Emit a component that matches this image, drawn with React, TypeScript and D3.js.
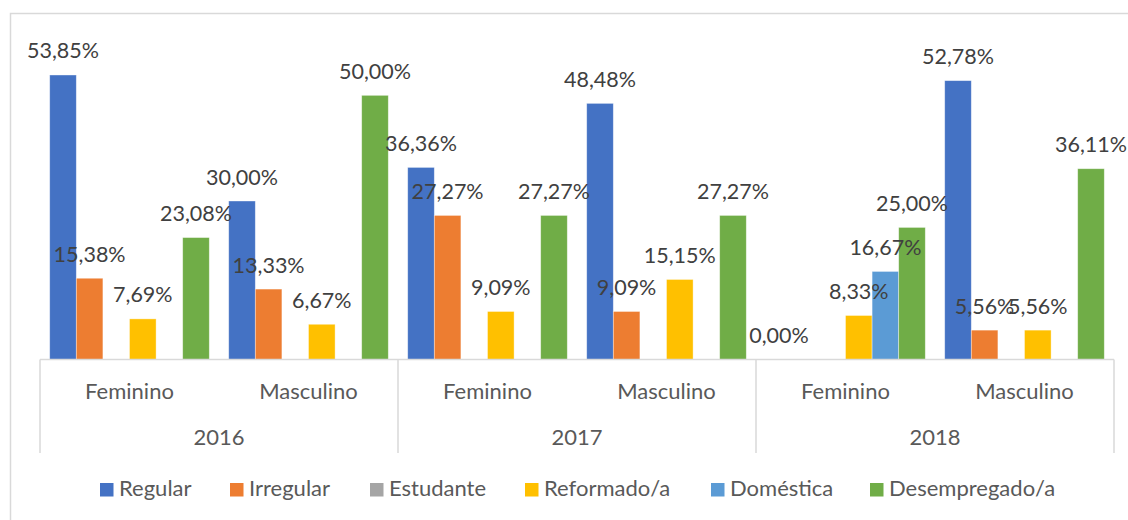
import React from "react";
import * as d3 from "d3";

const years = ["2016", "2017", "2018"];
const genders = ["Feminino", "Masculino"];
const seriesNames = ["Regular", "Irregular", "Estudante", "Reformado/a", "Doméstica", "Desempregado/a"];
const seriesColors = ["#4472C4", "#ED7D31", "#A5A5A5", "#FFC000", "#5B9BD5", "#70AD47"];

// values per category (year, gender), in series order; null = no value
const regular: (number | null)[] = [53.85, 30.0, 36.36, 48.48, 0.0, 52.78];
const irregular: (number | null)[] = [15.38, 13.33, 27.27, 9.09, null, 5.56];
const estudante: (number | null)[] = [null, null, null, null, null, null];
const reformado: (number | null)[] = [7.69, 6.67, 9.09, 15.15, 8.33, 5.56];
const domestica: (number | null)[] = [null, null, null, null, 16.67, null];
const desempregado: (number | null)[] = [23.08, 50.0, 27.27, 27.27, 25.0, 36.11];

const seriesValues = [regular, irregular, estudante, reformado, domestica, desempregado];

const categories = years.flatMap((y) => genders.map((g) => `${y}|${g}`));

const W = 1128;
const H = 520;
const left = 40;
const right = 1114;
const baseY = 359.5;
const topY = 42.5;
const legendX = [100, 230, 370, 525, 711, 870];
const FONT = "Lato, 'Open Sans', sans-serif";

const fmt = (v: number) => v.toFixed(2).replace(".", ",") + "%";

export default function App() {
  const x0 = d3.scaleBand<string>().domain(categories).range([left, right]).paddingInner(0).paddingOuter(0);
  const x1 = d3.scaleBand<string>().domain(seriesNames).range([0, x0.bandwidth()]).paddingInner(0).paddingOuter(0.365);
  const xYear = d3.scaleBand<string>().domain(years).range([left, right]);
  const y = d3.scaleLinear().domain([0, 60]).range([baseY, topY]);

  const bars: JSX.Element[] = [];
  const labels: JSX.Element[] = [];
  categories.forEach((c, ci) => {
    seriesNames.forEach((s, si) => {
      const v = seriesValues[si][ci];
      if (v === null || v === undefined) return;
      const bx = (x0(c) as number) + (x1(s) as number);
      const bw = x1.bandwidth();
      bars.push(
        <rect key={`b${ci}-${si}`} x={bx} y={y(v)} width={bw} height={baseY - y(v)} fill={seriesColors[si]} stroke="#ffffff" strokeOpacity={0.5} strokeWidth={0.75} />
      );
      labels.push(
        <text key={`l${ci}-${si}`} x={bx + bw / 2} y={y(v) - 16.5} textAnchor="middle" fontSize={21.5} fill="#404040" fontFamily={FONT}>
          {fmt(v)}
        </text>
      );
    });
  });

  return (
    <svg width={W} height={H} style={{ position: "absolute", left: 0, top: 0, background: "#fff" }}>
      <rect x={0} y={0} width={W} height={H} fill="#fff" />
      <rect x={10.5} y={13.5} width={1300} height={700} fill="none" stroke="#d9d9d9" strokeWidth={1.5} />
      {bars}
      <line x1={left} x2={right} y1={baseY} y2={baseY} stroke="#d9d9d9" strokeWidth={1.5} />
      {years.map((yr) => {
        const xs = xYear(yr) as number;
        return <line key={`v${yr}`} x1={xs} x2={xs} y1={baseY} y2={453} stroke="#d9d9d9" strokeWidth={1.5} />;
      })}
      <line x1={right} x2={right} y1={baseY} y2={453} stroke="#d9d9d9" strokeWidth={1.5} />
      {categories.map((c) => (
        <text key={`c${c}`} x={(x0(c) as number) + x0.bandwidth() / 2} y={399} textAnchor="middle" fontSize={22} fill="#595959" fontFamily={FONT}>
          {c.split("|")[1]}
        </text>
      ))}
      {years.map((yr) => (
        <text key={`y${yr}`} x={(xYear(yr) as number) + xYear.bandwidth() / 2} y={445} textAnchor="middle" fontSize={22} fill="#595959" fontFamily={FONT}>
          {yr}
        </text>
      ))}
      {labels}
      {seriesNames.map((s, i) => (
        <g key={`lg${s}`}>
          <rect x={legendX[i]} y={483} width={13.5} height={13.5} fill={seriesColors[i]} />
          <text x={legendX[i] + 19} y={496} fontSize={22} fill="#595959" fontFamily={FONT}>
            {s}
          </text>
        </g>
      ))}
    </svg>
  );
}
